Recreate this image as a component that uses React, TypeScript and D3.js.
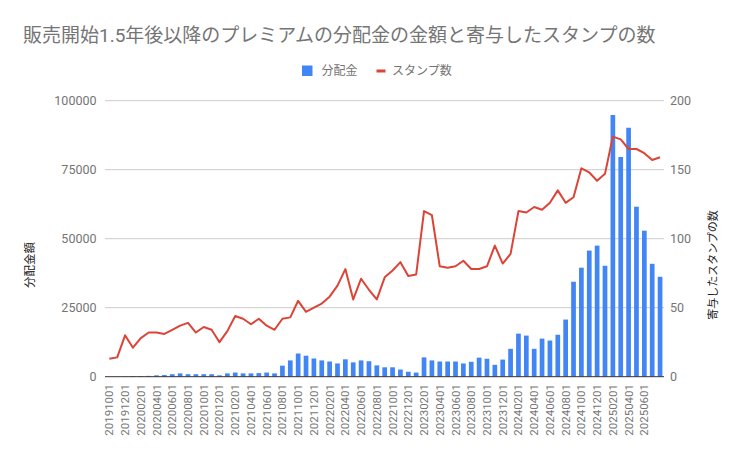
import * as d3 from "d3";
import { useEffect, useRef } from "react";

// months shown on the x axis (one bar / one line point each)
const months = [
  "201910", "201911", "201912",
  "202001", "202002", "202003", "202004", "202005", "202006", "202007", "202008", "202009", "202010", "202011", "202012",
  "202101", "202102", "202103", "202104", "202105", "202106", "202107", "202108", "202109", "202110", "202111", "202112",
  "202201", "202202", "202203", "202204", "202205", "202206", "202207", "202208", "202209", "202210", "202211", "202212",
  "202301", "202302", "202303", "202304", "202305", "202306", "202307", "202308", "202309", "202310", "202311", "202312",
  "202401", "202402", "202403", "202404", "202405", "202406", "202407", "202408", "202409", "202410", "202411", "202412",
  "202501", "202502", "202503", "202504", "202505", "202506", "202507", "202508",
];

// 分配金 (left axis)
const payout = [
  0, 0, 100, 200, 200, 300, 500, 600, 900, 1200,
  900, 900, 900, 900, 500, 1200, 1500, 1200, 1200, 1300,
  1500, 1200, 4000, 5900, 8400, 7600, 6600, 5900, 5500, 4800,
  6300, 5200, 5900, 5600, 4100, 3400, 3400, 2600, 1800, 1500,
  7000, 5900, 5500, 5500, 5500, 4800, 5400, 6900, 6500, 4300,
  6200, 10100, 15600, 14900, 10100, 13800, 13100, 15200, 20700, 34400,
  39500, 45700, 47500, 40200, 94800, 79600, 90200, 61600, 52900, 40900,
  36200,
];

// スタンプ数 (right axis)
const stamps = [
  13, 14, 30, 21, 28, 32, 32, 31, 34, 37,
  39, 32, 36, 34, 25, 33, 44, 42, 38, 42,
  37, 34, 42, 43, 55, 47, 50, 53, 58, 66,
  78, 56, 71, 63, 56, 72, 77, 83, 73, 74,
  120, 117, 80, 79, 80, 84, 78, 78, 80, 95,
  82, 89, 120, 119, 123, 121, 126, 135, 126, 130,
  151, 148, 142, 147, 174, 172, 165, 165, 162, 157,
  159,
];

const xLabels = [
  "20191001", "20191201", "20200201", "20200401", "20200601", "20200801", "20201001", "20201201",
  "20210201", "20210401", "20210601", "20210801", "20211001", "20211201",
  "20220201", "20220401", "20220601", "20220801", "20221001", "20221201",
  "20230201", "20230401", "20230601", "20230801", "20231001", "20231201",
  "20240201", "20240401", "20240601", "20240801", "20241001", "20241201",
  "20250201", "20250401", "20250601",
];
const leftTicks = [0, 25000, 50000, 75000, 100000];
const rightTicks = [0, 50, 100, 150, 200];

const title = "販売開始1.5年後以降のプレミアムの分配金の金額と寄与したスタンプの数";
const FONT = "Roboto, 'Noto Sans CJK JP', sans-serif";

const App = () => {
  const ref: any = useRef();

  useEffect(() => {
    const width = 747, height = 462;
    const blue = "#4285f4", red = "#db4437";

    // Reset Render
    if (ref?.current) ref.current.innerHTML = "";

    const svg = d3.select(ref.current)
      .attr("width", width)
      .attr("height", height)
      .style("font-family", FONT);

    const x = d3.scaleBand().domain(months).range([105.4, 664]);
    const yLeft = d3.scaleLinear().domain([0, 100000]).range([376.7, 100.7]);
    const yRight = d3.scaleLinear().domain([0, 200]).range([376.7, 100.7]);
    const cx = (m: string) => (x(m) as number) + x.bandwidth() / 2;

    // title
    svg.append("text")
      .attr("x", 23).attr("y", 42)
      .attr("font-size", 19).attr("fill", "#757575")
      .text(title);

    // legend
    const legend = svg.append("g").attr("font-size", 12).attr("fill", "#757575");
    legend.append("rect").attr("x", 302).attr("y", 65.5).attr("width", 10.5).attr("height", 10.5).attr("fill", blue);
    legend.append("text").attr("x", 321.5).attr("y", 75).text("分配金");
    legend.append("rect").attr("x", 376.5).attr("y", 69.5).attr("width", 9).attr("height", 3).attr("fill", red);
    legend.append("text").attr("x", 392).attr("y", 75).text("スタンプ数");

    // gridlines
    svg.append("g").selectAll("line")
      .data(leftTicks.filter((t) => t > 0))
      .join("line")
      .attr("x1", 105).attr("x2", 664)
      .attr("y1", (d) => yLeft(d)).attr("y2", (d) => yLeft(d))
      .attr("stroke", "#cccccc").attr("stroke-width", 1);

    // left tick labels
    svg.append("g").selectAll("text")
      .data(leftTicks)
      .join("text")
      .attr("x", 96.5).attr("y", (d) => yLeft(d))
      .attr("dy", "0.35em").attr("text-anchor", "end")
      .attr("font-size", 12.5).attr("fill", "#757575")
      .text((d) => String(d));

    // right tick labels
    svg.append("g").selectAll("text")
      .data(rightTicks)
      .join("text")
      .attr("x", 670).attr("y", (d) => yRight(d))
      .attr("dy", "0.35em").attr("text-anchor", "start")
      .attr("font-size", 12.5).attr("fill", "#757575")
      .text((d) => String(d));

    // bars
    const barW = 4.7;
    svg.append("g").selectAll("rect")
      .data(months)
      .join("rect")
      .attr("x", (m) => cx(m) - barW / 2)
      .attr("width", barW)
      .attr("y", (m, i) => yLeft(payout[i]))
      .attr("height", (m, i) => yLeft(0) - yLeft(payout[i]))
      .attr("fill", blue);

    // baseline
    svg.append("line")
      .attr("x1", 105).attr("x2", 664)
      .attr("y1", yLeft(0)).attr("y2", yLeft(0))
      .attr("stroke", "#333333").attr("stroke-width", 1);

    // line
    const line = d3.line<number>()
      .x((d, i) => cx(months[i]))
      .y((d) => yRight(d));
    svg.append("path")
      .datum(stamps)
      .attr("d", line)
      .attr("fill", "none")
      .attr("stroke", red)
      .attr("stroke-width", 2)
      .attr("stroke-linejoin", "round");

    // x labels
    svg.append("g").selectAll("text")
      .data(xLabels)
      .join("text")
      .attr("transform", (d) => `translate(${cx(d.slice(0, 6))},384) rotate(-90)`)
      .attr("text-anchor", "end")
      .attr("dominant-baseline", "central")
      .attr("font-size", 11.5).attr("fill", "#757575")
      .text((d) => d);

    // axis titles
    svg.append("text")
      .attr("transform", "translate(30,265) rotate(-90)")
      .attr("text-anchor", "middle").attr("dominant-baseline", "central")
      .attr("font-size", 11.5).attr("fill", "#222222")
      .text("分配金額");
    svg.append("text")
      .attr("transform", "translate(713,265) rotate(-90)")
      .attr("text-anchor", "middle").attr("dominant-baseline", "central")
      .attr("font-size", 11).attr("fill", "#222222")
      .text("寄与したスタンプの数");
  }, []);

  return (
    <svg
      ref={ref}
      style={{ position: "absolute", left: 0, top: 0, background: "#ffffff" }}
    />
  );
};

export default App;
